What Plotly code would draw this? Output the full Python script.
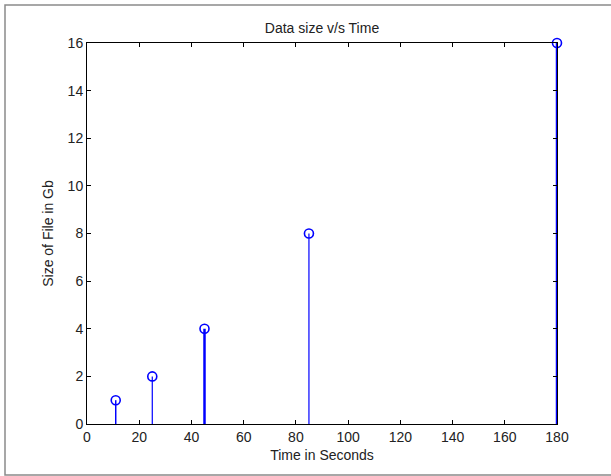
import plotly.graph_objects as go

time_s = [11, 25, 45, 85, 180]
size_gb = [1, 2, 4, 8, 16]
x_ticks = list(range(0, 181, 20))
y_ticks = list(range(0, 17, 2))
stem_widths = [1.5, 1.2, 2.5, 1.2, 2.5]

BLUE = "rgb(0,0,255)"
FONT = "Liberation Sans, Arial"
fig = go.Figure()
for xv, yv, w in zip(time_s, size_gb, stem_widths):
    fig.add_trace(go.Scatter(x=[xv, xv], y=[0, yv], mode="lines",
                             line=dict(color=BLUE, width=w), hoverinfo="skip",
                             showlegend=False, cliponaxis=False))
fig.add_trace(go.Scatter(x=time_s, y=size_gb, mode="markers",
                         marker=dict(symbol="circle-open", size=9, color=BLUE,
                                     line=dict(width=1.6, color=BLUE)),
                         showlegend=False, cliponaxis=False))

axis_common = dict(showgrid=False, zeroline=False, showline=True, linecolor="black",
                   linewidth=1, mirror="ticks", ticks="inside", ticklen=4,
                   tickcolor="black", tickwidth=1,
                   tickfont=dict(family=FONT, size=14, color="#222"))

fig.update_layout(
    width=611, height=476,
    margin=dict(l=87, r=54, t=43, b=52),
    paper_bgcolor="white", plot_bgcolor="white",
    title=dict(text="Data size v/s Time", x=0.5, xanchor="center", y=1 - 28 / 476,
               yanchor="middle", xref="paper",
               font=dict(family=FONT, size=14, color="#222")),
    xaxis=dict(range=[0, 180], tickvals=x_ticks,
               title=dict(text="Time in Seconds", standoff=6,
                          font=dict(family=FONT, size=14, color="#222")),
               **axis_common),
    yaxis=dict(range=[0, 16], tickvals=y_ticks,
               title=dict(text="Size of File in Gb", standoff=10,
                          font=dict(family=FONT, size=14, color="#222")),
               **axis_common),
    shapes=[dict(type="rect", xref="paper", yref="paper",
                 x0=(5 - 87) / 470, x1=(612 - 87) / 470,
                 y0=(424 - 475) / 381, y1=(424 - 5) / 381,
                 line=dict(color="#8a8a8a", width=1.5), fillcolor="rgba(0,0,0,0)",
                 layer="below")],
)

fig.write_html("out.html", config={"displayModeBar": False},
               post_script="document.body.style.margin='0';document.body.style.padding='0';")
